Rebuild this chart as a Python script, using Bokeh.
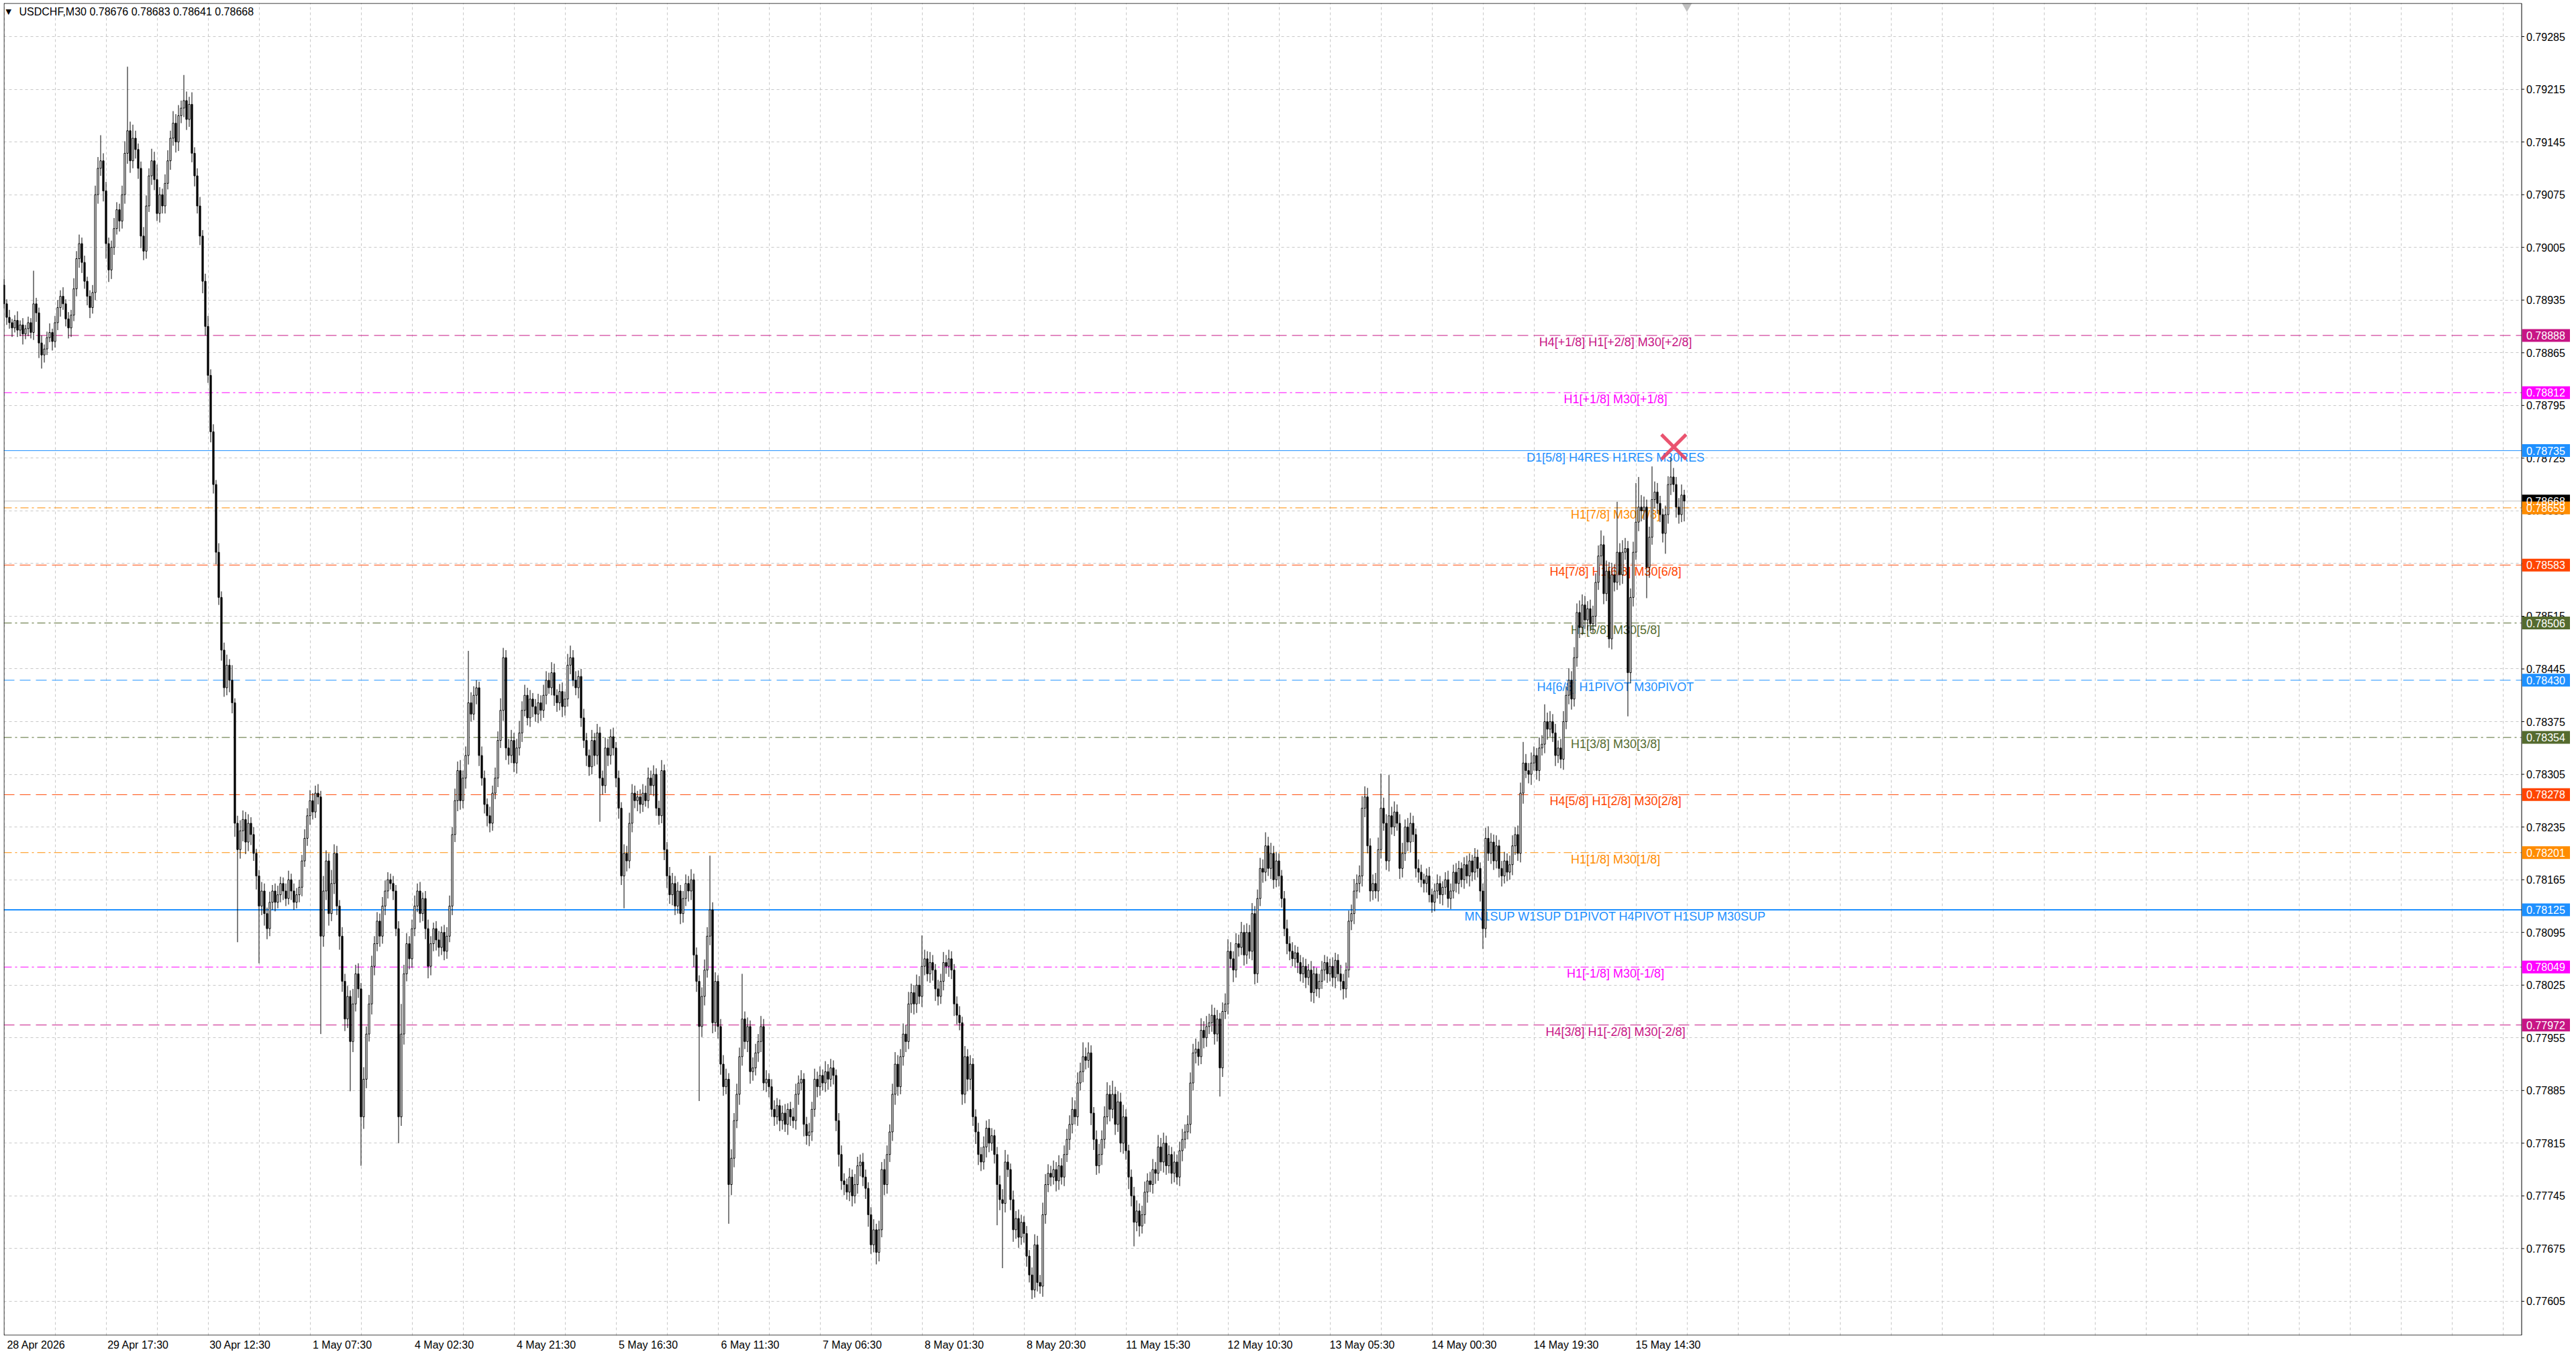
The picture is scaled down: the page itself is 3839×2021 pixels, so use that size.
from bokeh.plotting import figure
from bokeh.models import Range1d, FixedTicker, Label, ColumnDataSource, Grid
from bokeh.embed import file_html
from bokeh.resources import INLINE
from bokeh.core.properties import value

# ---------------- data ----------------
title_text = "USDCHF,M30  0.78676 0.78683 0.78641 0.78668"

first_open = 0.78955
close = [
    0.78930, 0.78912, 0.78905, 0.78898, 0.78908, 0.78895, 0.78902, 0.78890, 0.78897, 0.78905,
    0.78892, 0.78930, 0.78918, 0.78878, 0.78862, 0.78870, 0.78885, 0.78892, 0.78880, 0.78905,
    0.78925, 0.78940, 0.78930, 0.78910, 0.78898, 0.78915, 0.78950, 0.78990, 0.79010, 0.78985,
    0.78960, 0.78940, 0.78925, 0.78945, 0.79075, 0.79110, 0.79120, 0.79080, 0.79010, 0.78975,
    0.79005, 0.79030, 0.79055, 0.79040, 0.79075, 0.79130, 0.79160, 0.79120, 0.79150, 0.79135,
    0.79110, 0.79020, 0.79000, 0.79060, 0.79100, 0.79120, 0.79095, 0.79050, 0.79075, 0.79060,
    0.79090, 0.79120, 0.79150, 0.79170, 0.79145, 0.79180, 0.79190, 0.79200, 0.79175, 0.79195,
    0.79130, 0.79100, 0.79060, 0.79020, 0.78960, 0.78900, 0.78835, 0.78760, 0.78690, 0.78600,
    0.78540, 0.78470, 0.78420, 0.78450, 0.78430, 0.78400, 0.78240, 0.78205, 0.78230, 0.78245,
    0.78215, 0.78240, 0.78225, 0.78200, 0.78170, 0.78130, 0.78150, 0.78120, 0.78100, 0.78135,
    0.78150, 0.78135, 0.78145, 0.78160, 0.78150, 0.78140, 0.78165, 0.78150, 0.78135, 0.78145,
    0.78155, 0.78190, 0.78220, 0.78250, 0.78270, 0.78255, 0.78280, 0.78275, 0.78090, 0.78150,
    0.78190, 0.78120, 0.78160, 0.78200, 0.78130, 0.78090, 0.78030, 0.77980, 0.78010, 0.77950,
    0.78000, 0.78040, 0.78020, 0.77850, 0.77900, 0.77960, 0.78000, 0.78050, 0.78080, 0.78110,
    0.78090, 0.78130, 0.78150, 0.78165, 0.78160, 0.78150, 0.78100, 0.77850, 0.77960, 0.78040,
    0.78080, 0.78060, 0.78100, 0.78130, 0.78150, 0.78120, 0.78140, 0.78100, 0.78050, 0.78080,
    0.78100, 0.78085, 0.78075, 0.78095, 0.78070, 0.78090, 0.78130, 0.78225, 0.78270, 0.78310,
    0.78270, 0.78300, 0.78330, 0.78400, 0.78385, 0.78410, 0.78420, 0.78330, 0.78300, 0.78265,
    0.78250, 0.78240, 0.78280, 0.78300, 0.78350, 0.78390, 0.78460, 0.78340, 0.78330, 0.78350,
    0.78320, 0.78340, 0.78360, 0.78390, 0.78410, 0.78380, 0.78405, 0.78395, 0.78385, 0.78400,
    0.78390, 0.78410, 0.78430, 0.78420, 0.78440, 0.78410, 0.78400, 0.78415, 0.78395, 0.78405,
    0.78450, 0.78460, 0.78430, 0.78420, 0.78435, 0.78380, 0.78350, 0.78330, 0.78315, 0.78350,
    0.78330, 0.78360, 0.78300, 0.78290, 0.78340, 0.78330, 0.78355, 0.78340, 0.78300, 0.78260,
    0.78170, 0.78200, 0.78190, 0.78240, 0.78280, 0.78270, 0.78275, 0.78265, 0.78280, 0.78270,
    0.78300, 0.78290, 0.78305, 0.78260, 0.78250, 0.78310, 0.78205, 0.78170, 0.78145, 0.78160,
    0.78130, 0.78150, 0.78120, 0.78140, 0.78160, 0.78150, 0.78165, 0.78065, 0.78030, 0.77970,
    0.78010, 0.78045, 0.78090, 0.78125, 0.77975, 0.78030, 0.77970, 0.77920, 0.77890, 0.77900,
    0.77760, 0.77795, 0.77845, 0.77880, 0.77930, 0.77980, 0.77950, 0.77970, 0.77910, 0.77915,
    0.77935, 0.77950, 0.77970, 0.77895, 0.77900, 0.77890, 0.77860, 0.77850, 0.77865, 0.77845,
    0.77855, 0.77840, 0.77860, 0.77850, 0.77845, 0.77880, 0.77895, 0.77900, 0.77840, 0.77825,
    0.77830, 0.77860, 0.77900, 0.77890, 0.77905, 0.77895, 0.77910, 0.77900, 0.77915, 0.77905,
    0.77845, 0.77800, 0.77765, 0.77760, 0.77750, 0.77770, 0.77745, 0.77760, 0.77785, 0.77790,
    0.77770, 0.77755, 0.77720, 0.77680, 0.77700, 0.77670, 0.77700, 0.77780, 0.77760, 0.77800,
    0.77830, 0.77880, 0.77920, 0.77890, 0.77930, 0.77960, 0.77950, 0.78000, 0.78015, 0.78000,
    0.78025, 0.78010, 0.78050, 0.78060, 0.78040, 0.78055, 0.78045, 0.78020, 0.78010, 0.78030,
    0.78055, 0.78050, 0.78060, 0.78045, 0.78000, 0.77985, 0.77975, 0.77880, 0.77930, 0.77900,
    0.77920, 0.77850, 0.77830, 0.77800, 0.77790, 0.77810, 0.77835, 0.77815, 0.77825, 0.77800,
    0.77760, 0.77740, 0.77735, 0.77790, 0.77780, 0.77740, 0.77700, 0.77715, 0.77690, 0.77710,
    0.77695, 0.77665, 0.77640, 0.77620, 0.77680, 0.77630, 0.77625, 0.77720, 0.77760, 0.77775,
    0.77770, 0.77780, 0.77765, 0.77785, 0.77770, 0.77800, 0.77820, 0.77840, 0.77860, 0.77850,
    0.77895, 0.77910, 0.77930, 0.77925, 0.77935, 0.77855, 0.77820, 0.77785, 0.77800, 0.77820,
    0.77850, 0.77880, 0.77860, 0.77880, 0.77840, 0.77870, 0.77815, 0.77850, 0.77805, 0.77770,
    0.77745, 0.77710, 0.77725, 0.77705, 0.77720, 0.77750, 0.77765, 0.77760, 0.77780, 0.77775,
    0.77810, 0.77790, 0.77815, 0.77785, 0.77800, 0.77775, 0.77790, 0.77770, 0.77805, 0.77820,
    0.77830, 0.77840, 0.77895, 0.77935, 0.77940, 0.77930, 0.77965, 0.77955, 0.77970, 0.77975,
    0.77985, 0.77960, 0.77980, 0.77915, 0.77990, 0.78000, 0.78070, 0.78060, 0.78045, 0.78080,
    0.78075, 0.78095, 0.78065, 0.78095, 0.78070, 0.78120, 0.78040, 0.78140, 0.78180, 0.78175,
    0.78210, 0.78180, 0.78200, 0.78165, 0.78190, 0.78170, 0.78140, 0.78100, 0.78080, 0.78070,
    0.78060, 0.78068, 0.78055, 0.78040, 0.78050, 0.78035, 0.78045, 0.78015, 0.78040, 0.78020,
    0.78030, 0.78045, 0.78055, 0.78040, 0.78050, 0.78035, 0.78058, 0.78040, 0.78030, 0.78020,
    0.78045, 0.78110, 0.78120, 0.78150, 0.78160, 0.78170, 0.78260, 0.78275, 0.78210, 0.78150,
    0.78160, 0.78150, 0.78205, 0.78260, 0.78240, 0.78190, 0.78250, 0.78235, 0.78255, 0.78240,
    0.78180, 0.78200, 0.78235, 0.78215, 0.78240, 0.78225, 0.78180, 0.78175, 0.78165, 0.78160,
    0.78170, 0.78145, 0.78135, 0.78150, 0.78160, 0.78145, 0.78155, 0.78165, 0.78140, 0.78150,
    0.78175, 0.78160, 0.78180, 0.78165, 0.78185, 0.78170, 0.78190, 0.78175, 0.78195, 0.78180,
    0.78150, 0.78100, 0.78220, 0.78200, 0.78215, 0.78190, 0.78210, 0.78180, 0.78170, 0.78190,
    0.78175, 0.78185, 0.78210, 0.78225, 0.78200, 0.78280, 0.78320, 0.78310, 0.78305, 0.78320,
    0.78330, 0.78310, 0.78340, 0.78345, 0.78375, 0.78365, 0.78375, 0.78360, 0.78330, 0.78340,
    0.78325, 0.78375, 0.78410, 0.78430, 0.78405, 0.78460, 0.78520, 0.78500, 0.78530, 0.78510,
    0.78525, 0.78505, 0.78515, 0.78560, 0.78595, 0.78610, 0.78545, 0.78575, 0.78485, 0.78570,
    0.78560, 0.78600, 0.78570, 0.78600, 0.78605, 0.78440, 0.78540, 0.78600, 0.78640, 0.78660,
    0.78655, 0.78660, 0.78580, 0.78620, 0.78670, 0.78680, 0.78665, 0.78650, 0.78625, 0.78650,
    0.78690, 0.78700, 0.78690, 0.78660, 0.78650, 0.78676, 0.78668,
]

# wick lengths above / below the candle body, in points (0.00001)
upper_wick_pts = [
    8, 6, 10, 5, 7, 12, 6, 9, 5, 8,
    6, 44, 8, 7, 10, 6, 8, 12, 5, 9,
    10, 8, 12, 6, 9, 7, 14, 10, 12, 8,
    9, 6, 8, 10, 12, 15, 34, 10, 12, 8,
    9, 14, 10, 8, 12, 16, 85, 12, 18, 10,
    8, 9, 12, 14, 10, 16, 12, 20, 10, 8,
    12, 14, 10, 16, 12, 14, 10, 34, 12, 10,
    16, 8, 10, 12, 8, 10, 14, 8, 10, 6,
    12, 8, 10, 14, 8, 20, 6, 10, 14, 12,
    10, 12, 8, 10, 6, 8, 12, 10, 8, 14,
    8, 10, 12, 9, 8, 10, 12, 8, 10, 9,
    10, 8, 12, 10, 14, 10, 10, 12, 8, 20,
    14, 10, 18, 12, 10, 8, 12, 10, 14, 8,
    20, 12, 14, 8, 16, 10, 12, 14, 10, 12,
    10, 12, 14, 10, 8, 10, 8, 10, 40, 12,
    14, 10, 12, 14, 10, 12, 8, 10, 12, 10,
    8, 10, 12, 8, 10, 12, 14, 10, 16, 12,
    14, 10, 12, 69, 14, 12, 10, 8, 12, 10,
    8, 12, 10, 14, 12, 16, 13, 10, 12, 14,
    10, 12, 16, 12, 14, 10, 12, 8, 10, 12,
    10, 14, 12, 10, 14, 12, 8, 10, 12, 10,
    15, 16, 10, 12, 8, 10, 12, 10, 8, 14,
    10, 12, 8, 10, 14, 12, 10, 12, 8, 10,
    8, 12, 10, 14, 12, 10, 8, 10, 12, 10,
    14, 10, 12, 8, 10, 14, 8, 10, 12, 14,
    10, 12, 8, 10, 12, 10, 14, 8, 10, 8,
    12, 14, 12, 72, 10, 12, 8, 10, 12, 14,
    8, 12, 10, 14, 12, 60, 10, 12, 8, 14,
    12, 10, 14, 10, 12, 8, 10, 12, 10, 8,
    10, 12, 8, 10, 12, 14, 10, 12, 8, 10,
    12, 10, 14, 10, 12, 8, 14, 10, 12, 10,
    8, 10, 12, 10, 8, 12, 10, 14, 12, 10,
    12, 10, 8, 10, 14, 8, 12, 10, 14, 12,
    10, 14, 16, 12, 10, 14, 12, 16, 12, 10,
    14, 12, 41, 12, 10, 14, 10, 8, 12, 10,
    14, 10, 12, 10, 8, 10, 12, 8, 14, 10,
    12, 8, 10, 12, 10, 14, 10, 12, 10, 8,
    10, 12, 14, 16, 10, 8, 12, 10, 12, 10,
    8, 10, 8, 10, 14, 12, 10, 16, 14, 12,
    10, 12, 10, 14, 10, 12, 14, 12, 16, 12,
    14, 12, 19, 12, 14, 10, 8, 12, 14, 12,
    14, 16, 12, 18, 10, 14, 12, 16, 10, 8,
    10, 12, 14, 10, 12, 14, 10, 12, 14, 10,
    16, 12, 14, 10, 12, 10, 14, 10, 12, 14,
    10, 12, 14, 12, 14, 10, 16, 12, 14, 12,
    14, 10, 12, 8, 12, 14, 16, 12, 10, 14,
    12, 14, 10, 12, 10, 14, 10, 12, 14, 12,
    18, 12, 14, 10, 12, 10, 8, 10, 12, 10,
    12, 10, 8, 10, 12, 10, 8, 12, 10, 8,
    10, 12, 10, 8, 10, 12, 10, 8, 12, 10,
    10, 14, 12, 16, 12, 14, 16, 14, 12, 10,
    12, 14, 16, 46, 14, 12, 54, 12, 14, 10,
    12, 14, 10, 12, 14, 10, 8, 12, 10, 8,
    10, 12, 8, 10, 12, 10, 8, 10, 12, 10,
    10, 12, 10, 8, 10, 12, 10, 8, 12, 10,
    8, 10, 14, 16, 12, 10, 14, 8, 10, 12,
    10, 12, 14, 10, 12, 14, 28, 12, 10, 14,
    12, 10, 14, 12, 23, 12, 14, 10, 12, 10,
    12, 14, 12, 16, 12, 14, 12, 16, 14, 12,
    10, 12, 14, 12, 14, 19, 12, 14, 12, 16,
    14, 67, 12, 16, 14, 10, 12, 14, 52, 40,
    16, 14, 10, 14, 44, 14, 12, 10, 8, 12,
    11, 26, 12, 10, 12, 14, 7,
]
lower_wick_pts = [
    6, 10, 8, 12, 6, 9, 8, 14, 7, 10,
    8, 10, 12, 20, 18, 10, 8, 6, 12, 8,
    10, 12, 8, 10, 14, 12, 8, 10, 12, 14,
    10, 12, 14, 8, 10, 12, 10, 14, 20, 16,
    12, 10, 8, 14, 10, 12, 14, 16, 10, 12,
    14, 16, 12, 10, 8, 12, 14, 10, 12, 10,
    10, 8, 12, 10, 14, 12, 10, 12, 14, 10,
    12, 14, 10, 12, 16, 12, 10, 14, 12, 16,
    10, 14, 12, 10, 16, 14, 18, 123, 12, 14,
    16, 12, 14, 10, 18, 76, 12, 16, 14, 10,
    10, 12, 8, 10, 12, 10, 8, 12, 10, 8,
    10, 12, 8, 10, 12, 10, 8, 10, 130, 14,
    12, 16, 10, 14, 12, 18, 14, 16, 12, 66,
    14, 10, 12, 65, 16, 12, 10, 14, 12, 10,
    14, 10, 12, 10, 8, 12, 10, 35, 12, 14,
    10, 14, 12, 10, 8, 12, 10, 14, 16, 12,
    10, 14, 12, 10, 12, 10, 8, 12, 10, 14,
    12, 10, 14, 12, 10, 8, 12, 14, 10, 12,
    14, 12, 10, 8, 12, 10, 14, 16, 12, 10,
    12, 14, 10, 12, 8, 10, 12, 14, 10, 12,
    14, 10, 12, 8, 10, 14, 12, 10, 14, 12,
    10, 12, 8, 10, 14, 12, 10, 14, 12, 10,
    14, 12, 58, 12, 10, 14, 12, 10, 12, 14,
    12, 43, 14, 10, 12, 10, 14, 12, 10, 8,
    10, 12, 14, 10, 12, 10, 14, 16, 12, 14,
    12, 10, 14, 12, 10, 14, 12, 16, 14, 99,
    14, 12, 10, 12, 14, 12, 16, 14, 12, 10,
    52, 14, 12, 10, 14, 12, 10, 14, 16, 12,
    10, 12, 14, 10, 12, 14, 10, 12, 10, 14,
    12, 10, 14, 12, 10, 12, 14, 10, 16, 12,
    14, 12, 10, 14, 12, 10, 12, 14, 10, 12,
    14, 16, 12, 14, 10, 12, 14, 10, 12, 14,
    12, 14, 16, 12, 10, 16, 12, 10, 14, 12,
    10, 12, 14, 12, 10, 12, 14, 10, 12, 14,
    12, 10, 14, 12, 10, 12, 14, 16, 12, 10,
    12, 10, 14, 12, 16, 12, 10, 14, 12, 16,
    14, 12, 16, 14, 12, 10, 14, 12, 10, 12,
    54, 14, 86, 12, 10, 14, 16, 12, 14, 10,
    12, 14, 10, 12, 10, 12, 10, 14, 12, 10,
    12, 10, 14, 12, 10, 12, 10, 14, 12, 10,
    12, 10, 14, 12, 10, 16, 14, 12, 10, 14,
    12, 10, 16, 12, 14, 10, 12, 14, 12, 16,
    14, 32, 12, 14, 10, 12, 14, 10, 12, 14,
    10, 12, 14, 12, 10, 14, 12, 10, 12, 14,
    12, 10, 12, 10, 14, 12, 10, 14, 12, 10,
    12, 14, 10, 38, 12, 10, 14, 12, 16, 10,
    12, 10, 14, 12, 10, 12, 14, 12, 10, 14,
    12, 10, 14, 12, 10, 14, 12, 10, 14, 12,
    10, 12, 14, 10, 12, 14, 10, 12, 14, 10,
    12, 10, 14, 12, 10, 12, 14, 10, 12, 14,
    12, 10, 12, 14, 10, 12, 14, 12, 10, 14,
    12, 10, 14, 12, 10, 12, 14, 10, 12, 10,
    14, 12, 10, 12, 14, 10, 12, 14, 10, 12,
    12, 10, 14, 12, 10, 12, 14, 10, 12, 14,
    10, 12, 14, 10, 12, 10, 14, 12, 10, 12,
    14, 27, 12, 10, 14, 12, 10, 12, 14, 10,
    12, 10, 14, 12, 10, 12, 14, 10, 12, 14,
    10, 12, 14, 10, 12, 14, 10, 12, 14, 10,
    12, 14, 10, 12, 14, 10, 12, 14, 10, 12,
    14, 10, 12, 14, 10, 12, 14, 10, 12, 14,
    12, 10, 14, 12, 10, 58, 14, 12, 10, 12,
    14, 12, 41, 14, 10, 12, 14, 10, 12, 27,
    12, 14, 10, 14, 12, 10, 27,
]

x_tick_bars = [0, 38, 76, 114, 152, 190, 228, 266, 304, 342, 380, 418, 456, 494, 532, 570, 608]
x_tick_labels = ["28 Apr 2026", "29 Apr 17:30", "30 Apr 12:30", "1 May 07:30", "4 May 02:30",
                 "4 May 21:30", "5 May 16:30", "6 May 11:30", "7 May 06:30", "8 May 01:30",
                 "8 May 20:30", "11 May 15:30", "12 May 10:30", "13 May 05:30", "14 May 00:30",
                 "14 May 19:30", "15 May 14:30"]
y_ticks = [0.77605, 0.77675, 0.77745, 0.77815, 0.77885, 0.77955, 0.78025, 0.78095, 0.78165,
           0.78235, 0.78305, 0.78375, 0.78445, 0.78515, 0.78585, 0.78655, 0.78725, 0.78795,
           0.78865, 0.78935, 0.79005, 0.79075, 0.79145, 0.79215, 0.79285]

level_prices = [0.78888, 0.78812, 0.78735, 0.78659, 0.78583, 0.78506, 0.78430,
                0.78354, 0.78278, 0.78201, 0.78125, 0.78049, 0.77972]
level_names = ["H4[+1/8] H1[+2/8] M30[+2/8]", "H1[+1/8] M30[+1/8]", "D1[5/8] H4RES H1RES M30RES",
               "H1[7/8] M30[7/8]", "H4[7/8] H1[6/8] M30[6/8]", "H1[5/8] M30[5/8]",
               "H4[6/8] H1PIVOT M30PIVOT", "H1[3/8] M30[3/8]", "H4[5/8] H1[2/8] M30[2/8]",
               "H1[1/8] M30[1/8]", "MN1SUP W1SUP D1PIVOT H4PIVOT H1SUP M30SUP",
               "H1[-1/8] M30[-1/8]", "H4[3/8] H1[-2/8] M30[-2/8]"]
level_colors = ["#C71585", "#FF00FF", "#1E90FF", "#FF8C00", "#FF4500", "#556B2F", "#1E90FF",
                "#556B2F", "#FF4500", "#FF8C00", "#1E90FF", "#FF00FF", "#C71585"]
level_styles = ["dash", "dashdot", "solid", "dashdot", "dash", "dashdot", "dash",
                "dashdot", "dash", "dashdot", "solid2", "dashdot", "dash"]
bid_price = 0.78668
signal_bar = 622.1
signal_price = 0.78740
shift_marker_bar = 627

# ---------------- layout / style ----------------
FONT = "Liberation Sans"
PX_PER_BAR = 4.0
LEFT, TOP = 5, 4                 # page offset of the chart frame
FRAME_W, FRAME_H = 3831, 1986    # frame includes the price-scale strip
BOTTOM = 28
X0 = -0.125
XR = X0 + FRAME_W / PX_PER_BAR
AXIS_X = 938.0                   # bar coordinate of the price-scale line
Y0, Y1 = 0.775595, 0.793296
PX_Y = (Y1 - Y0) / FRAME_H       # price per pixel
LABEL_BAR = 600.4
XLAB_SHIFT = 12.0
GRID = "#C8C8C8"
DASHES = {"dash": ("16 8", 1), "dashdot": ("12 5 3 5", 1), "solid": ("solid", 1), "solid2": ("solid", 2)}

n = min(len(close), len(upper_wick_pts), len(lower_wick_pts))
idx = list(range(n))
opens = [first_open] + close[:n - 1]
body_top = [max(o, c) for o, c in zip(opens, close[:n])]
body_bot = [min(o, c) for o, c in zip(opens, close[:n])]
highs = [t + u * 1e-5 for t, u in zip(body_top, upper_wick_pts[:n])]
lows = [b - l * 1e-5 for b, l in zip(body_bot, lower_wick_pts[:n])]
fills = ["white" if c > o else "black" for o, c in zip(opens, close[:n])]

src = ColumnDataSource(dict(x=idx, top=body_top, bot=body_bot, hi=highs, lo=lows, fill=fills))

p = figure(width=LEFT + FRAME_W, height=TOP + FRAME_H + BOTTOM,
           x_range=Range1d(X0, XR), y_range=Range1d(Y0, Y1),
           y_axis_location=None, output_backend="svg", toolbar_location=None,
           min_border_left=LEFT, min_border_top=TOP, min_border_right=0, min_border_bottom=BOTTOM,
           background_fill_color="white", border_fill_color="white")
p.outline_line_color = None

# time axis (labels start just right of each tick, as in the terminal)
p.xaxis.ticker = FixedTicker(ticks=[b + XLAB_SHIFT for b in x_tick_bars])
p.xaxis.major_label_overrides = {b + XLAB_SHIFT: lab for b, lab in zip(x_tick_bars, x_tick_labels)}
p.xaxis.major_tick_out = 0
p.xaxis.major_tick_in = 0
p.xaxis.minor_tick_out = 0
p.xaxis.minor_tick_in = 0
p.xaxis.major_label_standoff = 5
p.xaxis.axis_line_color = None
p.xaxis.major_label_text_font = FONT
p.xaxis.major_label_text_font_size = "16px"
p.xaxis.major_label_text_color = "black"

for g in p.grid:
    g.visible = False
for dim, ticks in ((0, list(range(0, 939, 19))), (1, y_ticks)):
    p.add_layout(Grid(dimension=dim, ticker=FixedTicker(ticks=ticks), grid_line_color=GRID,
                      grid_line_dash="4 4", grid_line_width=1))

# level lines (stop at the price scale)
p.segment(x0=[X0], y0=[bid_price], x1=[AXIS_X], y1=[bid_price], line_color="#C0C0C0", line_width=1)
for price, col, sty in zip(level_prices, level_colors, level_styles):
    dash, w = DASHES[sty]
    p.segment(x0=[X0], y0=[price], x1=[AXIS_X], y1=[price], line_color=col, line_width=w,
              line_dash=dash)

# level names (behind bars)
p.text(x=[LABEL_BAR] * len(level_prices), y=level_prices, text=level_names,
       text_color=level_colors, text_font=value(FONT), text_font_size="18px",
       text_align="center", text_baseline="middle", y_offset=10)

# candles
p.segment(x0="x", y0="lo", x1="x", y1="hi", source=src, line_color="black", line_width=1)
p.vbar(x="x", width=0.55, top="top", bottom="bot", source=src, fill_color="fill",
       line_color="black", line_width=1)

# signal cross
p.scatter(x=[signal_bar], y=[signal_price], marker="x", size=52, line_color="#E8405F",
          line_width=5, line_alpha=0.9)

# chart-shift marker at the top edge
p.scatter(x=[shift_marker_bar], y=[Y1 - 4.5 * PX_Y], marker="inverted_triangle", size=15,
          fill_color="#C0C0C0", line_color=None)

# price-scale strip: blank background, chart border, ticks and labels
p.quad(left=[AXIS_X], right=[XR], bottom=[Y0], top=[Y1], fill_color="white", line_color=None)
p.quad(left=[0.0], right=[AXIS_X], bottom=[Y0 + 0.5 * PX_Y], top=[Y1 - 0.5 * PX_Y],
       fill_color=None, line_color="black", line_width=1)
p.segment(x0=[AXIS_X] * len(y_ticks), y0=y_ticks, x1=[AXIS_X + 1.0] * len(y_ticks), y1=y_ticks,
          line_color="black", line_width=1)
p.text(x=[AXIS_X] * len(y_ticks), y=y_ticks, text=[f"{t:.5f}" for t in y_ticks],
       text_color="black", text_font=value(FONT), text_font_size="16px",
       text_align="left", text_baseline="middle", x_offset=7)

# coloured price tags (current price first, levels on top)
tag_prices = [bid_price] + level_prices
tag_colors = ["black"] + level_colors
p.quad(left=[AXIS_X + 0.125] * len(tag_prices), right=[AXIS_X + 18.0] * len(tag_prices),
       bottom=[t - 9.5 * PX_Y for t in tag_prices], top=[t + 9.5 * PX_Y for t in tag_prices],
       fill_color=tag_colors, line_color=None)
p.text(x=[AXIS_X] * len(tag_prices), y=tag_prices, text=[f"{t:.5f}" for t in tag_prices],
       text_color="white", text_font=value(FONT), text_font_size="16px",
       text_align="left", text_baseline="middle", x_offset=7)

# title
p.add_layout(Label(x=X0, y=Y1, x_units="data", y_units="data", x_offset=3, y_offset=-6,
                   text="▼", text_font="DejaVu Sans", text_font_size="11px",
                   text_color="black", text_baseline="top", text_align="left"))
p.add_layout(Label(x=X0, y=Y1, x_units="data", y_units="data", x_offset=23, y_offset=-4,
                   text=title_text, text_font=FONT, text_font_size="16px",
                   text_color="black", text_baseline="top", text_align="left"))

open("out.html", "w").write(file_html(p, INLINE))
